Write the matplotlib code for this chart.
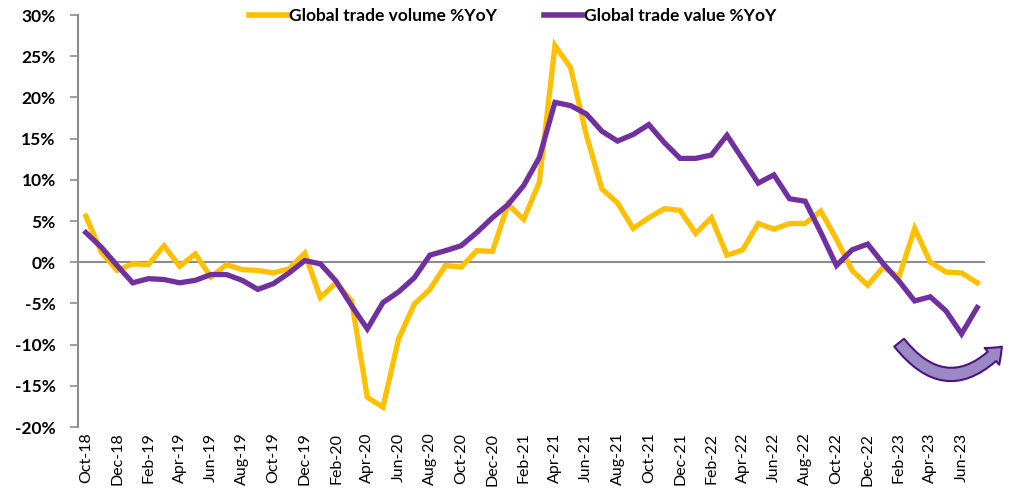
import matplotlib
matplotlib.use("Agg")
import matplotlib.pyplot as plt
from matplotlib.patches import FancyArrowPatch
from matplotlib.ticker import FuncFormatter, FixedLocator

months = ["Oct-18","Nov-18","Dec-18","Jan-19","Feb-19","Mar-19","Apr-19","May-19","Jun-19","Jul-19",
          "Aug-19","Sep-19","Oct-19","Nov-19","Dec-19","Jan-20","Feb-20","Mar-20","Apr-20","May-20",
          "Jun-20","Jul-20","Aug-20","Sep-20","Oct-20","Nov-20","Dec-20","Jan-21","Feb-21","Mar-21",
          "Apr-21","May-21","Jun-21","Jul-21","Aug-21","Sep-21","Oct-21","Nov-21","Dec-21","Jan-22",
          "Feb-22","Mar-22","Apr-22","May-22","Jun-22","Jul-22","Aug-22","Sep-22","Oct-22","Nov-22",
          "Dec-22","Jan-23","Feb-23","Mar-23","Apr-23","May-23","Jun-23","Jul-23"]

volume = [5.6, 1.2, -1.0, -0.2, -0.3, 2.0, -0.5, 1.0, -1.8, -0.3,
          -0.9, -1.0, -1.3, -0.8, 1.1, -4.3, -2.5, -4.7, -16.4, -17.6,
          -9.3, -5.1, -3.3, -0.4, -0.6, 1.4, 1.3, 7.0, 5.2, 9.7,
          26.3, 23.6, 15.5, 8.9, 7.2, 4.1, 5.4, 6.5, 6.3, 3.5,
          5.4, 0.85, 1.5, 4.7, 4.0, 4.7, 4.7, 6.2, 2.8, -1.0,
          -2.8, -0.6, -1.8, 4.1, 0.0, -1.2, -1.3, -2.5]

value = [3.6, 1.8, -0.4, -2.5, -2.0, -2.1, -2.5, -2.2, -1.5, -1.5,
         -2.2, -3.3, -2.6, -1.3, 0.2, -0.2, -2.3, -5.3, -8.1, -4.9,
         -3.6, -1.9, 0.85, 1.4, 2.0, 3.6, 5.4, 7.0, 9.3, 12.7,
         19.4, 19.0, 18.0, 15.9, 14.7, 15.5, 16.7, 14.5, 12.6, 12.6,
         13.0, 15.4, 12.5, 9.6, 10.6, 7.7, 7.4, 3.6, -0.4, 1.5,
         2.2, -0.2, -2.3, -4.7, -4.2, -5.9, -8.7, -5.5]

yticks = [-20, -15, -10, -5, 0, 5, 10, 15, 20, 25, 30]
series_names = ["Global trade volume %YoY", "Global trade value %YoY"]

YELLOW = "#FFC000"
PURPLE = "#7030A0"
GRAY = "#8c8c8c"

plt.rcParams['font.family'] = ['Lato', 'DejaVu Sans']

fig = plt.figure(figsize=(10.22, 5.01), dpi=100)
ax = fig.add_axes([78/1022, 1-427/501, (985-78)/1022, (427-15)/501])

x = list(range(len(months)))
ax.axhline(0, color=GRAY, lw=1.5, zorder=1)
ax.plot(x, volume, color=YELLOW, lw=3.8, solid_joinstyle='miter', label=series_names[0], zorder=3)
ax.plot(x, value, color=PURPLE, lw=3.8, solid_joinstyle='miter', label=series_names[1], zorder=4)

ax.set_xlim(-0.5, len(months) - 0.5)
ax.set_ylim(-20, 30)
ax.yaxis.set_major_locator(FixedLocator(yticks))
ax.yaxis.set_major_formatter(FuncFormatter(lambda v, p: f"{int(v)}%"))
ax.set_xticks(x[::2])
ax.set_xticklabels(months[::2], rotation=90, fontsize=11.5)
ax.tick_params(axis='x', length=0, pad=4)
ax.tick_params(axis='y', length=6, width=1.2, color=GRAY, pad=10, labelsize=12.5)
for lbl in ax.get_yticklabels():
    lbl.set_fontweight('bold')

for s in ['top', 'right', 'bottom']:
    ax.spines[s].set_visible(False)
ax.spines['left'].set_color(GRAY)
ax.spines['left'].set_linewidth(1.5)

leg = fig.legend(loc='upper center', bbox_to_anchor=(0.502, 1.015), ncol=2, frameon=False,
                 prop={'weight': 'bold', 'size': 12.5}, handlelength=2.2, handletextpad=0.1,
                 columnspacing=2.7)
for h in leg.get_lines():
    h.set_linewidth(4)

arrow = FancyArrowPatch((51.9, -9.5), (58.7, -10.0),
                        connectionstyle="arc3,rad=0.6",
                        arrowstyle="simple,head_width=16,head_length=10,tail_width=9",
                        mutation_scale=1, facecolor="#9c88c4", edgecolor="#4b1580",
                        lw=1.5, clip_on=False, zorder=5)
ax.add_patch(arrow)

fig.savefig("out.png", dpi=100)
